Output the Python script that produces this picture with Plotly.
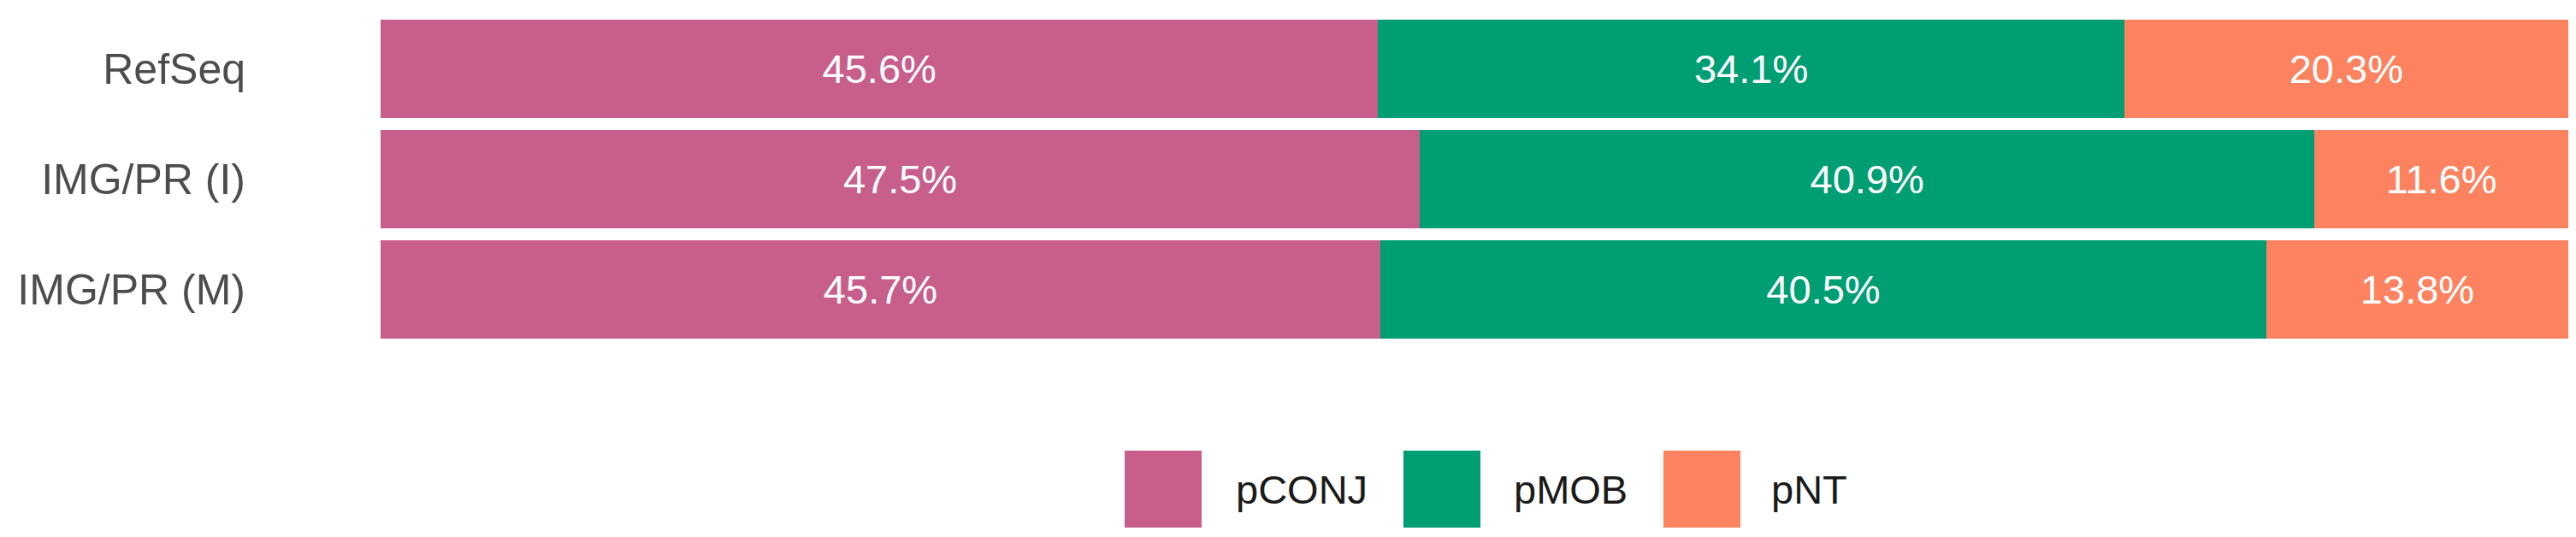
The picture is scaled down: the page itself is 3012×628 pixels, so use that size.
import plotly.graph_objects as go

# ---- data ----
categories = ["RefSeq", "IMG/PR (I)", "IMG/PR (M)"]
series_names = ["pCONJ", "pMOB", "pNT"]
pconj = [45.6, 47.5, 45.7]
pmob = [34.1, 40.9, 40.5]
pnt = [20.3, 11.6, 13.8]
series_values = [pconj, pmob, pnt]
colors = ["#C85E8C", "#009E73", "#FC8260"]

# ---- layout constants (pixels) ----
W, H = 3012, 628
L, R, T, B = 437, 17, 8, 233
FONT = "Liberation Sans, Arial, sans-serif"
plot_w = W - L - R
plot_h = H - T - B

fig = go.Figure()
for name, vals, col in zip(series_names, series_values, colors):
    fig.add_trace(go.Bar(
        y=categories, x=vals, name=name, orientation="h",
        marker=dict(color=col, line=dict(width=0)),
        text=[f"{v:.1f}%" for v in vals],
        textposition="inside", insidetextanchor="middle",
        textfont=dict(family=FONT, size=47, color="white"),
        constraintext="none",
        showlegend=False,
        hoverinfo="skip",
    ))

# custom legend (large square keys) placed below the plot
legend_sq_px = [1307, 1633, 1937]
legend_txt_px = [1435, 1760, 2061]
sq_size = 90
sq_top_px = 519

def px_x(p):
    return (p - L) / plot_w

def px_y(p):
    return (H - B - p) / plot_h

shapes = []
annotations = []
for name, col, sx, tx in zip(series_names, colors, legend_sq_px, legend_txt_px):
    shapes.append(dict(type="rect", xref="paper", yref="paper",
                       x0=px_x(sx), x1=px_x(sx + sq_size),
                       y0=px_y(sq_top_px + sq_size), y1=px_y(sq_top_px),
                       fillcolor=col, line=dict(width=0)))
    annotations.append(dict(xref="paper", yref="paper", x=px_x(tx),
                            y=px_y(sq_top_px + sq_size / 2), text=name,
                            showarrow=False, xanchor="left", yanchor="middle",
                            font=dict(family=FONT, size=47, color="#1A1A1A")))

fig.update_layout(
    barmode="stack",
    bargap=0.11,
    width=W, height=H,
    margin=dict(l=L, r=R, t=T, b=B, pad=0),
    paper_bgcolor="white", plot_bgcolor="white",
    shapes=shapes, annotations=annotations,
    xaxis=dict(range=[0, 100], visible=False, showgrid=False, zeroline=False,
               fixedrange=True),
    yaxis=dict(categoryorder="array", categoryarray=categories,
               autorange="reversed", showgrid=False, zeroline=False,
               showline=False, ticks="", ticklabelstandoff=157,
               tickfont=dict(family=FONT, size=50, color="#4D4D4D")),
    showlegend=False,
    uniformtext=dict(mode=False),
)

fig.write_html("out.html")
